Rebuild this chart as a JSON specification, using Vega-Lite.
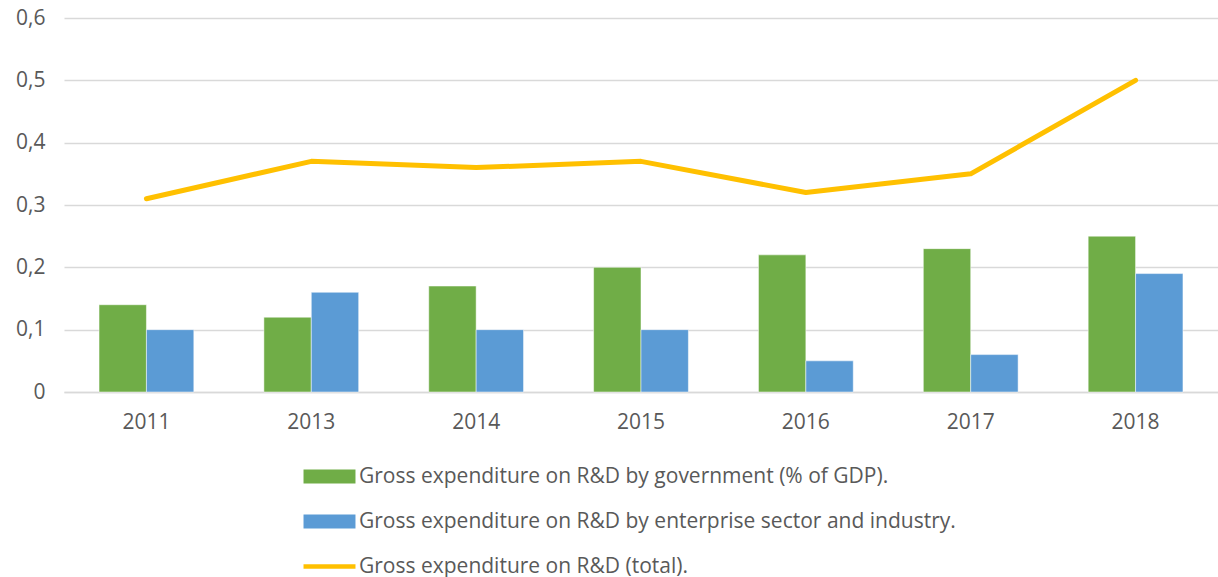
{
  "$schema": "https://vega.github.io/schema/vega-lite/v6.json",
  "width": 1154,
  "height": 374,
  "autosize": {"type": "none"},
  "padding": {"left": 64, "top": 18, "right": 0, "bottom": 185},
  "background": "white",
  "config": {
    "view": {"stroke": null},
    "font": "Open Sans",
    "axis": {"labelFont": "Open Sans", "labelColor": "#595959", "labelFontSize": 21}
  },
  "data": {
    "values": [
      {"year": "2011", "series": "Gross expenditure on R&D by government (% of GDP).", "value": 0.14},
      {"year": "2011", "series": "Gross expenditure on R&D by enterprise sector and industry.", "value": 0.10},
      {"year": "2011", "series": "Gross expenditure on R&D (total).", "value": 0.31},
      {"year": "2013", "series": "Gross expenditure on R&D by government (% of GDP).", "value": 0.12},
      {"year": "2013", "series": "Gross expenditure on R&D by enterprise sector and industry.", "value": 0.16},
      {"year": "2013", "series": "Gross expenditure on R&D (total).", "value": 0.37},
      {"year": "2014", "series": "Gross expenditure on R&D by government (% of GDP).", "value": 0.17},
      {"year": "2014", "series": "Gross expenditure on R&D by enterprise sector and industry.", "value": 0.10},
      {"year": "2014", "series": "Gross expenditure on R&D (total).", "value": 0.36},
      {"year": "2015", "series": "Gross expenditure on R&D by government (% of GDP).", "value": 0.20},
      {"year": "2015", "series": "Gross expenditure on R&D by enterprise sector and industry.", "value": 0.10},
      {"year": "2015", "series": "Gross expenditure on R&D (total).", "value": 0.37},
      {"year": "2016", "series": "Gross expenditure on R&D by government (% of GDP).", "value": 0.22},
      {"year": "2016", "series": "Gross expenditure on R&D by enterprise sector and industry.", "value": 0.05},
      {"year": "2016", "series": "Gross expenditure on R&D (total).", "value": 0.32},
      {"year": "2017", "series": "Gross expenditure on R&D by government (% of GDP).", "value": 0.23},
      {"year": "2017", "series": "Gross expenditure on R&D by enterprise sector and industry.", "value": 0.06},
      {"year": "2017", "series": "Gross expenditure on R&D (total).", "value": 0.35},
      {"year": "2018", "series": "Gross expenditure on R&D by government (% of GDP).", "value": 0.25},
      {"year": "2018", "series": "Gross expenditure on R&D by enterprise sector and industry.", "value": 0.19},
      {"year": "2018", "series": "Gross expenditure on R&D (total).", "value": 0.50}
    ]
  },
  "encoding": {
    "x": {
      "field": "year", "type": "nominal",
      "scale": {"paddingInner": 0.425, "paddingOuter": 0.2125},
      "axis": {"title": null, "labelAngle": 0, "ticks": false, "domainColor": "#D9D9D9", "domainWidth": 1.5, "labelPadding": 19}
    },
    "y": {
      "field": "value", "type": "quantitative",
      "scale": {"domain": [0, 0.6], "nice": false},
      "axis": {
        "title": null, "values": [0, 0.1, 0.2, 0.3, 0.4, 0.5, 0.6],
        "labelOverlap": false,
        "domain": false, "ticks": false, "labelPadding": 19,
        "gridColor": "#D9D9D9", "gridWidth": 1.5,
        "labelExpr": "datum.value == 0 ? '0' : replace(format(datum.value, '.1f'), '.', ',')"
      }
    },
    "color": {
      "field": "series", "type": "nominal",
      "scale": {
        "domain": ["Gross expenditure on R&D by government (% of GDP).", "Gross expenditure on R&D by enterprise sector and industry.", "Gross expenditure on R&D (total)."],
        "range": ["#70AD47", "#5B9BD5", "#FFC000"]
      },
      "legend": {
        "title": null, "orient": "none", "direction": "vertical",
        "legendX": 255, "legendY": 448,
        "labelFont": "Open Sans", "labelFontSize": 21, "labelColor": "#595959",
        "labelLimit": 0,
        "labelOffset": 19, "rowPadding": 23, "symbolSize": 2700,
        "symbolType": "M-1,-0.27H1V0.27H-1Z",
        "symbolStrokeWidth": 0,
        "encode": {
          "symbols": {
            "update": {
              "shape": {"signal": "datum.value == 'Gross expenditure on R&D (total).' ? 'M-1,0H1' : 'M-1,-0.27H1V0.27H-1Z'"},
              "fill": {"signal": "datum.value == 'Gross expenditure on R&D (total).' ? 'transparent' : (datum.value == 'Gross expenditure on R&D by government (% of GDP).' ? '#70AD47' : '#5B9BD5')"},
              "stroke": {"signal": "datum.value == 'Gross expenditure on R&D (total).' ? '#FFC000' : 'transparent'"},
              "strokeWidth": {"signal": "datum.value == 'Gross expenditure on R&D (total).' ? 4.5 : 0"},
              "opacity": {"value": 1}
            }
          }
        }
      }
    }
  },
  "layer": [
    {
      "transform": [{"filter": "datum.series != 'Gross expenditure on R&D (total).'"}],
      "mark": {"type": "bar", "stroke": "white", "strokeWidth": 0.5},
      "encoding": {
        "xOffset": {
          "field": "series", "type": "nominal",
          "scale": {"domain": ["Gross expenditure on R&D by government (% of GDP).", "Gross expenditure on R&D by enterprise sector and industry."]}
        }
      }
    },
    {
      "transform": [{"filter": "datum.series == 'Gross expenditure on R&D (total).'"}],
      "mark": {"type": "line", "strokeWidth": 5, "strokeCap": "round", "strokeJoin": "round"},
      "encoding": {}
    }
  ]
}
